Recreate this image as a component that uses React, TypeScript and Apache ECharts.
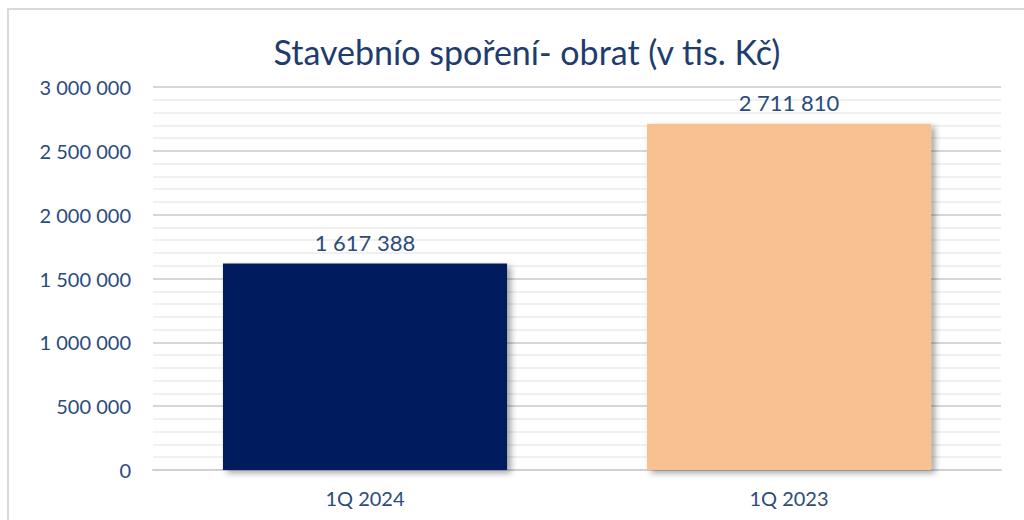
import React, { useEffect, useRef } from "react";
import * as echarts from "echarts";

const categories = ["1Q 2024", "1Q 2023"];
const values = [1617388, 2711810];
const barColors = ["#001F5F", "#F8C191"];
const titleText = "Stavebnío spoření- obrat (v tis. Kč)";

const fmt = (v: number) => String(Math.round(v)).replace(/\B(?=(\d{3})+(?!\d))/g, " ");

export default function App() {
  const ref = useRef<HTMLDivElement>(null);
  useEffect(() => {
    const chart = echarts.init(ref.current!, undefined, { renderer: "svg" });
    const font = "Lato, 'Open Sans', sans-serif";
    chart.setOption({
      animation: false,
      backgroundColor: "#ffffff",
      title: {
        text: titleText,
        left: 522,
        top: 29,
        textAlign: "center",
        textStyle: { color: "#1F3C6E", fontSize: 34, fontWeight: "normal", fontFamily: font },
      },
      graphic: [
        {
          type: "polyline",
          shape: { points: [[8, 530], [8, 9], [1030, 9]] },
          style: { stroke: "#D9D9D9", lineWidth: 2, fill: "none" },
          silent: true,
        },
      ],
      grid: { left: 153, right: 23, top: 87, bottom: 50 },
      xAxis: {
        type: "category",
        data: categories,
        axisLine: { show: true, lineStyle: { color: "#D0D0D0", width: 2 } },
        axisTick: { show: false },
        axisLabel: { color: "#2A4B7C", fontSize: 20, margin: 18, fontFamily: font },
      },
      yAxis: {
        type: "value",
        min: 0,
        max: 3000000,
        interval: 500000,
        axisLine: { show: false },
        axisTick: { show: false },
        axisLabel: { color: "#2A4B7C", fontSize: 20, margin: 22, fontFamily: font, formatter: (v: number) => fmt(v) },
        splitLine: { show: true, lineStyle: { color: "#D6D6D6", width: 2 } },
        minorTick: { show: false, splitNumber: 5 },
        minorSplitLine: { show: true, lineStyle: { color: "#F0F0F0", width: 2 } },
      },
      series: [
        {
          type: "bar",
          barWidth: "67%",
          data: values.map((v, i) => ({ value: v, itemStyle: { color: barColors[i] } })),
          itemStyle: {
            shadowBlur: 6,
            shadowOffsetX: 4,
            shadowOffsetY: 3,
            shadowColor: "rgba(0,0,0,0.35)",
          },
          label: {
            show: true,
            position: "top",
            distance: 10,
            color: "#2A4B7C",
            fontSize: 22,
            fontFamily: font,
            formatter: (p: any) => fmt(p.value),
          },
        },
      ],
    });
    return () => chart.dispose();
  }, []);
  return (
    <div
      ref={ref}
      style={{ position: "fixed", left: 0, top: 0, width: 1024, height: 520 }}
    />
  );
}
